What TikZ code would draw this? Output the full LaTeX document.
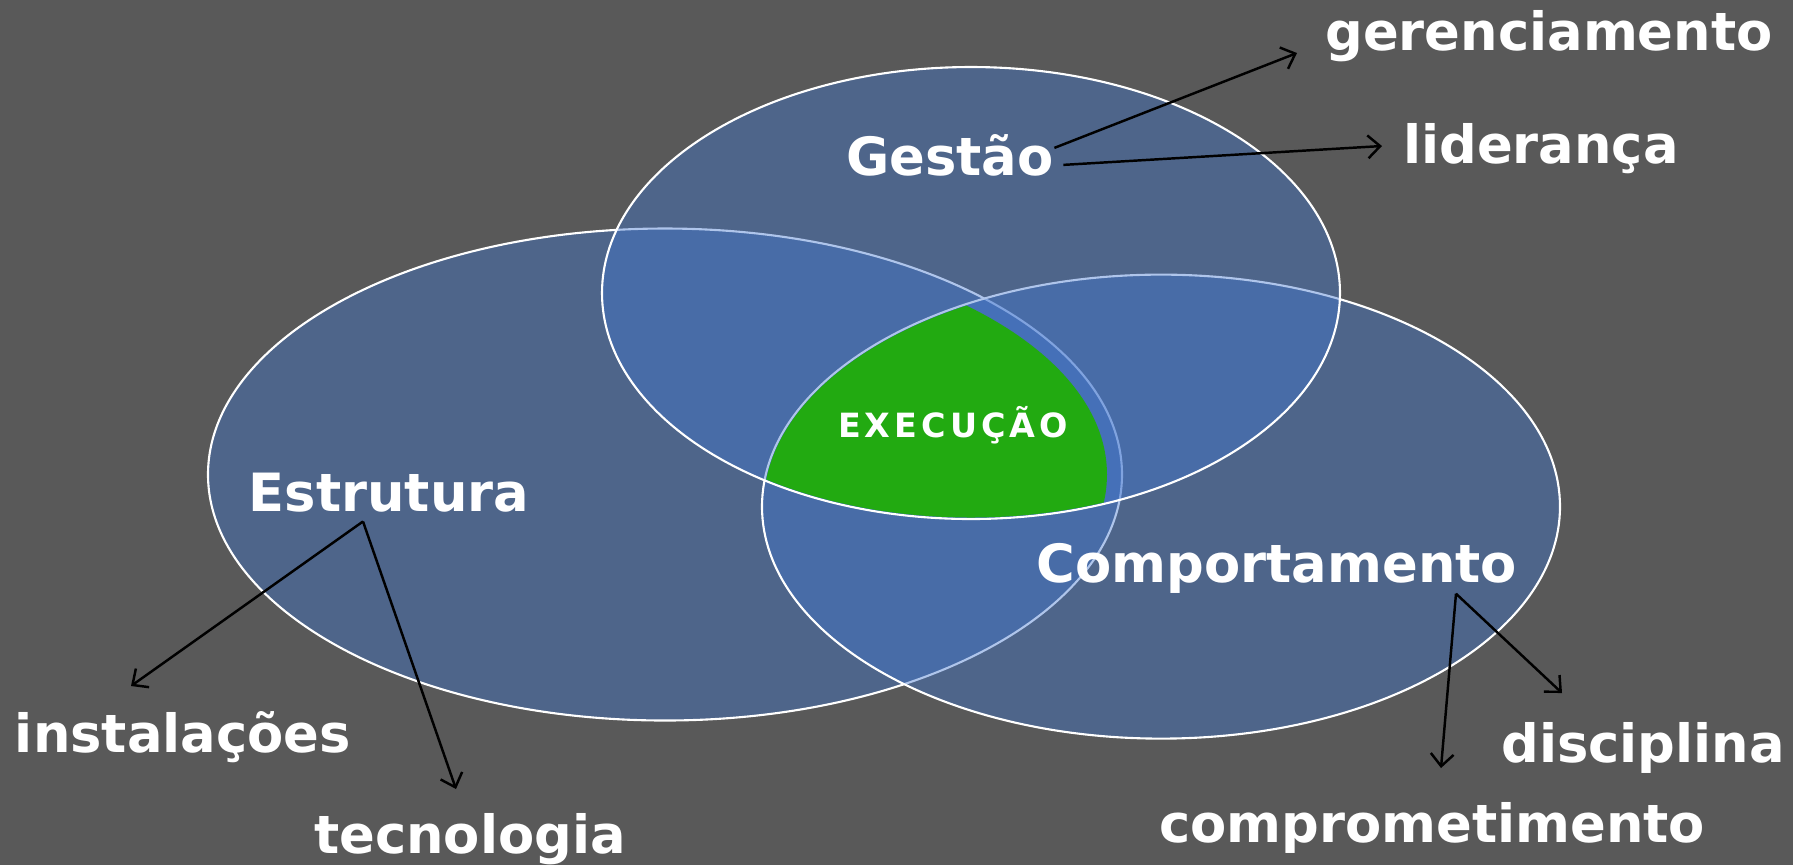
\documentclass[tikz,border=0pt]{standalone}
\usepackage{fontspec}
\setmainfont{DejaVu Sans}
\usetikzlibrary{arrows.meta}
\definecolor{bggray}{RGB}{89,89,89}
\definecolor{vennblue}{RGB}{65,118,208}
\definecolor{execgreen}{RGB}{34,170,17}

\begin{document}
\begin{tikzpicture}[x=0.1mm,y=-0.1mm]
\tikzstyle{every node}+=[inner sep=0pt]
\tikzstyle{venn}=[draw=white, line width=0.6pt, fill=vennblue, fill opacity=0.42]
\tikzstyle{lbl}=[text=white, anchor=base, font=\fontsize{15}{18}\selectfont\bfseries]
\tikzstyle{execlbl}=[text=white, anchor=base, font=\fontsize{9.5}{11}\selectfont\bfseries\addfontfeatures{LetterSpace=12}]
\tikzstyle{link}=[black, line width=0.7pt, -{Straight Barb[length=3.5pt,width=6.5pt]}]
\useasboundingbox (0,0) rectangle (1793,864);
\fill [bggray] (-10,-10) rectangle (1803,874);
% the three sets
\draw [venn] (665,474.5) ellipse [x radius=45.7mm, y radius=24.6mm];
\draw [venn] (1161,506.6) ellipse [x radius=39.9mm, y radius=23.2mm];
\draw [venn] (971,293) ellipse [x radius=36.9mm, y radius=22.6mm];
% common part
\begin{scope}
\clip (1161,506.6) ellipse [x radius=39.75mm, y radius=23.05mm];
\clip (971,293) ellipse [x radius=36.75mm, y radius=22.45mm];
\fill [execgreen] (665,474.5) ellipse [x radius=44.2mm, y radius=23.1mm];
\end{scope}
\node [execlbl] (exec) at (953,437) {EXECUÇÃO};
% labels
\node [lbl] (gestao) at (950,175) {Gestão};
\node [lbl] (estrutura) at (389,511) {Estrutura};
\node [lbl] (comport) at (1277,582) {Comportamento};
\node [lbl] (gerenc) at (1549,50) {gerenciamento};
\node [lbl] (lider) at (1541,163) {liderança};
\node [lbl] (instal) at (183,752) {instalações};
\node [lbl] (tecno) at (470,853) {tecnologia};
\node [lbl] (discip) at (1643,762) {disciplina};
\node [lbl] (comprom) at (1432,842) {comprometimento};
% arrow tips
\coordinate (tG) at (1297,53);
\coordinate (tL) at (1382,146);
\coordinate (tI) at (131,686);
\coordinate (tT) at (456,789);
\coordinate (tD) at (1562,693);
\coordinate (tC) at (1441,768);
\draw [link] ([yshift=0.7mm]gestao.east) -- (tG);
\draw [link] ([xshift=0.9mm,yshift=-1mm]gestao.east) -- (tL);
\draw [link] ([xshift=-2.6mm,yshift=-0.9mm]estrutura.south) -- (tI);
\draw [link] ([xshift=-2.6mm,yshift=-0.9mm]estrutura.south) -- (tT);
\draw [link] ([xshift=17.9mm]comport.south) -- (tD);
\draw [link] ([xshift=17.9mm]comport.south) -- (tC);
\end{tikzpicture}
\end{document}
